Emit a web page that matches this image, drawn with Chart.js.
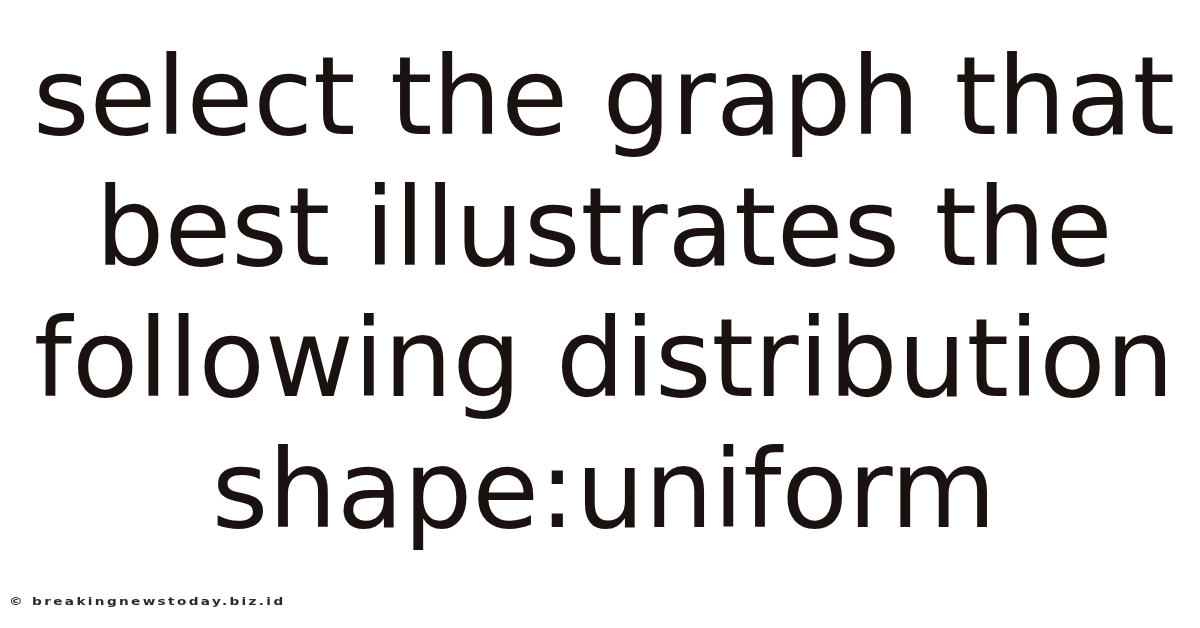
<!DOCTYPE html>
<html>
<head>
<meta charset="utf-8">
<script src="https://cdn.jsdelivr.net/npm/chart.js@4.4.1/dist/chart.umd.min.js"></script>
<style>
html,body{margin:0;padding:0;background:#fff;}
#wrap{width:1200px;height:628px;position:relative;}
</style>
</head>
<body>
<div id="wrap"><canvas id="c" width="1200" height="628"></canvas></div>
<script>
const titleLines = ["select the graph that", "best illustrates the", "following distribution", "shape:uniform"];
const footerText = ["\u00a9 breakingnewstoday.biz.id"];
const categories = [];
const values = [];

const footerPlugin = {
  id: 'footerText',
  afterDraw(chart) {
    const ctx = chart.ctx;
    ctx.save();
    ctx.translate(9, 605);
    ctx.scale(1.3, 1);
    ctx.font = '600 10.5px "DejaVu Sans"';
    try { ctx.letterSpacing = '1.8px'; } catch (e) {}
    ctx.fillStyle = '#2a2a2a';
    ctx.textAlign = 'left';
    ctx.textBaseline = 'alphabetic';
    footerText.forEach((t, i) => ctx.fillText(t, 0, i * 14));
    ctx.restore();
  }
};

new Chart(document.getElementById('c'), {
  type: 'bar',
  data: { labels: categories, datasets: [{ data: values }] },
  options: {
    responsive: false,
    animation: false,
    layout: { padding: { top: 0, left: 8, right: 0, bottom: 0 } },
    scales: { x: { display: false }, y: { display: false } },
    plugins: {
      legend: { display: false },
      tooltip: { enabled: false },
      title: {
        display: true,
        text: titleLines,
        color: '#1a1111',
        font: { family: 'DejaVu Sans', size: 108.5, weight: 'normal', lineHeight: 1.207 },
        padding: { top: 40.5, bottom: 0 }
      }
    }
  },
  plugins: [footerPlugin]
});
</script>
</body>
</html>
